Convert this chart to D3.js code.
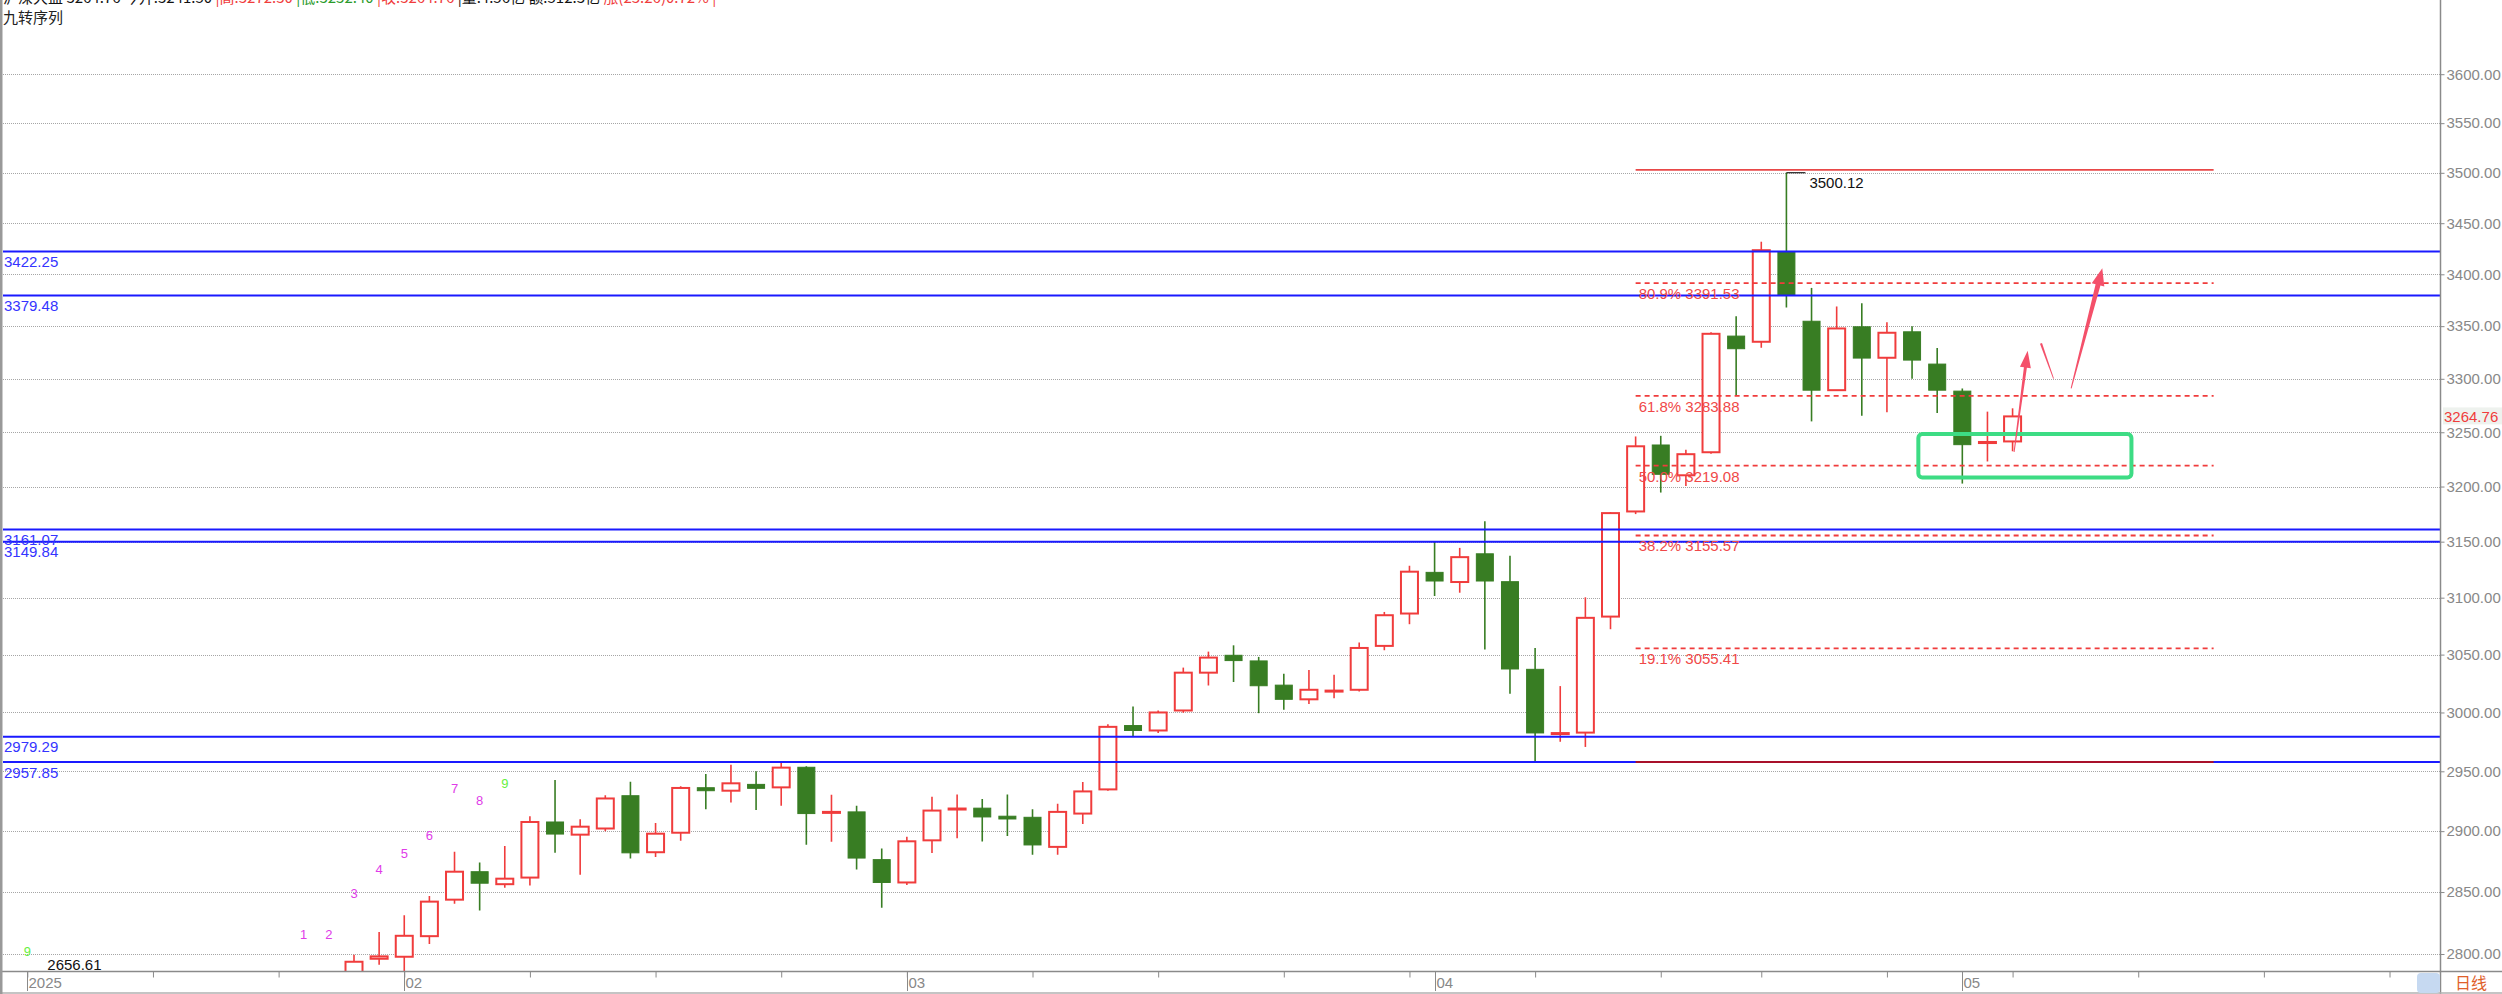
<!DOCTYPE html>
<html><head><meta charset="utf-8">
<script src="https://cdn.jsdelivr.net/npm/d3@7"></script>
<style>html,body{margin:0;padding:0;background:#fff;overflow:hidden}svg{display:block}</style>
</head><body><svg id="c" width="2502" height="994"></svg>
<script>
// ---------------- data ----------------
const bars = d3.range(0, 67);
const open  = [2775,2796.2,2797.8,2814.3,2843.8,2866.6,2856.4,2861.8,2907.6,2897.1,
  2902.2,2929.5,2882.6,2898.7,2936.2,2933.7,2939.0,2936.5,2953.4,2915.5,
  2916.0,2876.5,2857.8,2892.4,2918.0,2919.1,2912.4,2911.5,2887.0,2914.6,
  2934.8,2988.8,2984.6,3001.7,3034.3,3049.4,3044.5,3023.5,3011.3,3018.3,
  3019.5,3057.6,3086.0,3122.5,3113.9,3139.1,3114.2,3037.2,2981.6,2982.8,
  3083.3,3177.3,3238.2,3210.3,3231.5,3340.5,3335.1,3422.25,3354.7,3289.3,
  3349.4,3319.9,3344.6,3313.9,3288.4,3240.0,3241.5];
const high  = [2799.5,2817.6,2831.1,2846.8,2882.9,2874.1,2887.7,2912.4,2942.7,2909.8,
  2929.8,2941.3,2906.7,2937.4,2947.8,2955.6,2950.0,2957.8,2954.2,2930.3,
  2921.1,2885.7,2895.4,2928.7,2930.6,2926.7,2930.6,2918.3,2922.8,2941.0,
  2989.9,3005.2,3001.7,3038.7,3052.6,3058.1,3048.0,3033.4,3036.6,3032.6,
  3060.5,3087.4,3128.4,3150.3,3144.4,3168.5,3137.3,3055.8,3022.7,3100.3,
  3176.7,3246.1,3246.7,3233.9,3344.3,3359.4,3431.8,3500.12,3386.8,3368.9,
  3372.0,3353.8,3350.0,3329.1,3290.9,3269.2,3272.3];
const low   = [2770,2791.4,2785,2808.1,2840.5,2835.1,2853.5,2855.4,2882.1,2864.2,
  2900.0,2877.5,2878.6,2892.0,2918.3,2923.9,2917.5,2921.1,2888.8,2891.2,
  2868.4,2837.3,2855.7,2881.9,2894.1,2891.4,2895.9,2880.5,2880.5,2905.9,
  2933.7,2979.29,2982.4,2999.7,3023.2,3026.2,2999.4,3002.3,3007.3,3012.2,
  3018.0,3053.8,3076.6,3101.5,3104.4,3054.4,3016.0,2957.85,2975.0,2970.6,
  3072.2,3174.9,3194.5,3200.6,3230.0,3284.6,3329.4,3367.9,3260.1,3289.3,
  3265.4,3268.6,3300.0,3267.9,3202.7,3223.0,3232.4];
const close = [2793.8,2798.1,2814.6,2842.2,2866.6,2857.2,2860.9,2907.6,2897.6,2903.7,
  2927.2,2882.1,2897.9,2936.0,2933.7,2939.9,2935.7,2953.1,2914.6,2916.0,
  2877.8,2857.8,2891.6,2917.1,2918.8,2911.8,2910.1,2888.6,2916.0,2933.1,
  2987.7,2984.6,3000.0,3034.3,3047.4,3044.8,3023.0,3011.3,3019.5,3018.8,
  3055.8,3084.5,3123.1,3114.8,3136.1,3114.8,3037.5,2982.5,2982.4,3082.2,
  3175.8,3237.0,3211.2,3229.7,3342.7,3328.5,3423.5,3379.48,3289.3,3347.8,
  3319.6,3343.7,3317.7,3289.3,3238.5,3241.0,3264.76];

const yTickValues = d3.range(2800, 3601, 50);
const xTickBars = [-13,-8,-3,2,7,12,17,22,27,32,37,42,47,52,56,61,66,71,76,81];
const monthBars = [-13, 2, 22, 43, 64];
const monthLabels = ["2025","02","03","04","05"];

const levelValues = [3422.25,3379.48,3161.07,3149.84,2979.29,2957.85];

const fibPercents = ["80.9%","61.8%","50.0%","38.2%","19.1%"];
const fibValues = [3391.53,3283.88,3219.08,3155.57,3055.41];
const fibEnds = [3503, 2957.85];
const fibBars = [51, 74];

const tdBars   = [-13,-2,-1,0,1,2,3,4,5,6];
const tdLabels = ["9","1","2","3","4","5","6","7","8","9"];
const tdPrices = [2802.4,2815.8,2815.8,2848.9,2868.5,2882.2,2896.8,2935.7,2925.9,2939.9];

const highMarkBar = 57, highMarkValue = 3500.12;
const lowMarkBar = -13, lowMarkValue = 2656.61;
const lastPrice = 3264.76;

const boxBars = [62.25, 70.73];
const boxPrices = [3248.3, 3208.2];
const arrowBars   = [[66.06, 66.60], [67.13, 67.63], [68.33, 69.57]];
const arrowPrices = [[3231.7, 3326.6], [3333.6, 3300.1], [3291.1, 3405.8]];

// ---------------- layout ----------------
const W = 2502, H = 994;
const axisX = 2440, axisY = 971.5;
const UP = "#f03c3c", DOWN = "#387d23", BLUE = "#1a1aff", GRID = "#a6a6a6", AX = "#8a8a8a";
const FONT = "'Liberation Sans', Arial, sans-serif";
const CJK = "'Noto Sans CJK SC', sans-serif";

const x = d3.scaleLinear().domain([0, 66]).range([354, 354 + 66 * 25.13]);
const y = d3.scaleLog().domain([2800, 3600]).range([954, 74.2]);

const svg = d3.select("#c");
svg.append("defs").append("clipPath").attr("id", "plot")
  .append("rect").attr("x", 3).attr("y", 0).attr("width", axisX - 3).attr("height", axisY);

// gridlines
const g = svg.append("g").attr("clip-path", "url(#plot)");
g.selectAll("line.grid").data(yTickValues).join("line")
  .attr("x1", 3).attr("x2", axisX)
  .attr("y1", d => Math.round(y(d)) + 0.5).attr("y2", d => Math.round(y(d)) + 0.5)
  .attr("stroke", GRID).attr("stroke-width", 1).attr("stroke-dasharray", "1,1");

// candles
const cg = g.append("g");
bars.forEach(i => {
  const o = open[i], h = high[i], l = low[i], c = close[i];
  const up = c >= o;
  const col = up ? UP : DOWN;
  const cx = x(i);
  cg.append("line").attr("x1", cx).attr("x2", cx).attr("y1", y(h)).attr("y2", y(l))
    .attr("stroke", col).attr("stroke-width", 1.6);
  const top = Math.min(y(o), y(c)), hgt = Math.max(1, Math.abs(y(o) - y(c)));
  cg.append("rect").attr("x", cx - 8.5).attr("width", 17).attr("y", top).attr("height", hgt)
    .attr("fill", up ? "#fff" : DOWN).attr("stroke", col).attr("stroke-width", up ? 2 : 1);
});

// blue support/resistance lines
const ag = g.append("g");
levelValues.forEach(v => {
  ag.append("line").attr("x1", 3).attr("x2", axisX).attr("y1", y(v)).attr("y2", y(v))
    .attr("stroke", BLUE).attr("stroke-width", 2);
});

// fib lines
const fx1 = x(fibBars[0]), fx2 = x(fibBars[1]);
fibValues.forEach(v => {
  ag.append("line").attr("x1", fx1).attr("x2", fx2).attr("y1", y(v)).attr("y2", y(v))
    .attr("stroke", UP).attr("stroke-width", 1.8).attr("stroke-dasharray", "5,4");
});
ag.append("line").attr("x1", fx1).attr("x2", fx2).attr("y1", y(fibEnds[0])).attr("y2", y(fibEnds[0]))
  .attr("stroke", "#e84848").attr("stroke-width", 1.8);
ag.append("line").attr("x1", fx1).attr("x2", fx2).attr("y1", y(fibEnds[1])).attr("y2", y(fibEnds[1]))
  .attr("stroke", "#a8102a").attr("stroke-width", 2);

// labels for blue levels
levelValues.forEach(v => {
  ag.append("text").attr("x", 4).attr("y", y(v) + 15.5).text(v.toFixed(2))
    .attr("fill", "#3434ff").attr("font-family", FONT).attr("font-size", 15);
});
// fib labels
fibValues.forEach((v, k) => {
  ag.append("text").attr("x", fx1 + 3).attr("y", y(v) + 16).text(fibPercents[k] + " " + v.toFixed(2))
    .attr("fill", "#f04848").attr("font-family", FONT).attr("font-size", 15);
});

// high marker
const hx = x(highMarkBar), hy = y(highMarkValue);
ag.append("line").attr("x1", hx).attr("x2", hx + 19).attr("y1", hy).attr("y2", hy).attr("stroke", "#222").attr("stroke-width", 1.2);
ag.append("text").attr("x", hx + 23).attr("y", hy + 15).text(highMarkValue.toFixed(2))
  .attr("fill", "#111").attr("font-family", FONT).attr("font-size", 15);
// low marker (clamped to bottom of plot)
ag.append("text").attr("x", x(lowMarkBar) + 20).attr("y", Math.min(y(lowMarkValue), axisY) - 1.5)
  .text(lowMarkValue.toFixed(2)).attr("fill", "#111").attr("font-family", FONT).attr("font-size", 15);

// TD sequential numbers
tdBars.forEach((b, k) => {
  ag.append("text").attr("x", x(b)).attr("y", y(tdPrices[k]) + 5).attr("text-anchor", "middle")
    .text(tdLabels[k]).attr("fill", tdLabels[k] === "9" ? "#66f040" : "#e03ce8")
    .attr("font-family", FONT).attr("font-size", 13);
});

// green box
ag.append("rect").attr("x", x(boxBars[0])).attr("y", y(boxPrices[0]))
  .attr("width", x(boxBars[1]) - x(boxBars[0])).attr("height", y(boxPrices[1]) - y(boxPrices[0]))
  .attr("rx", 4).attr("fill", "none").attr("stroke", "#3ddc84").attr("stroke-width", 4);

// arrows
function arrowPoly(x0, y0, x1, y1, baseW, shaftW, headLen, headW) {
  const dx = x1 - x0, dy = y1 - y0, L = Math.hypot(dx, dy);
  const ux = dx / L, uy = dy / L, nx = -uy, ny = ux;
  const pts = [];
  pts.push([x0 + nx * baseW / 2, y0 + ny * baseW / 2]);
  if (headLen > 0) {
    const kx = x1 - ux * headLen, ky = y1 - uy * headLen;
    pts.push([kx + nx * shaftW / 2, ky + ny * shaftW / 2]);
    pts.push([kx + nx * headW / 2, ky + ny * headW / 2]);
    pts.push([x1, y1]);
    pts.push([kx - nx * headW / 2, ky - ny * headW / 2]);
    pts.push([kx - nx * shaftW / 2, ky - ny * shaftW / 2]);
  } else {
    pts.push([x1 + nx * shaftW / 2, y1 + ny * shaftW / 2]);
    pts.push([x1 - nx * shaftW / 2, y1 - ny * shaftW / 2]);
  }
  pts.push([x0 - nx * baseW / 2, y0 - ny * baseW / 2]);
  return pts.map(p => p.join(",")).join(" ");
}
const arrowShapes = [[1, 3, 17, 11], [2.2, 0.8, 0, 0], [1, 5, 17, 13]];
arrowBars.forEach((ab, k) => {
  const s = arrowShapes[k];
  ag.append("polygon").attr("points",
    arrowPoly(x(ab[0]), y(arrowPrices[k][0]), x(ab[1]), y(arrowPrices[k][1]), s[0], s[1], s[2], s[3]))
    .attr("fill", "#f4506a");
});

// ---------------- axes / frame ----------------
// right price axis
const yAxis = d3.axisRight(y).tickValues(yTickValues).tickFormat(d3.format(".2f")).tickSize(4).tickPadding(2);
const ya = svg.append("g").attr("transform", `translate(${axisX + 0.5},0)`).call(yAxis);
ya.select(".domain").remove();
ya.selectAll("line").attr("stroke", AX);
ya.selectAll("text").attr("fill", "#888").attr("font-family", FONT).attr("font-size", 15);
svg.append("line").attr("x1", axisX + 0.5).attr("x2", axisX + 0.5).attr("y1", 0).attr("y2", H)
  .attr("stroke", AX).attr("stroke-width", 1.5);

// last price tag
svg.append("rect").attr("x", axisX + 3).attr("y", y(lastPrice) - 9).attr("width", W - axisX - 3).attr("height", 17)
  .attr("fill", "#eef2ee");
svg.append("text").attr("x", axisX + 4).attr("y", y(lastPrice) + 5.5).text(lastPrice.toFixed(2))
  .attr("fill", UP).attr("font-family", FONT).attr("font-size", 15);

// bottom time axis
const xAxis = d3.axisBottom(x).tickValues(xTickBars).tickFormat("").tickSize(6);
const xa = svg.append("g").attr("transform", `translate(0,${axisY})`).call(xAxis);
xa.select(".domain").remove();
xa.selectAll("line").attr("stroke", AX);
svg.append("line").attr("x1", 0).attr("x2", W).attr("y1", axisY).attr("y2", axisY).attr("stroke", AX).attr("stroke-width", 1.5);
svg.append("line").attr("x1", 0).attr("x2", W).attr("y1", 993).attr("y2", 993).attr("stroke", "#b0b0b0").attr("stroke-width", 1.5);
monthBars.forEach((b, k) => {
  const mx = Math.round(x(b)) + 0.5;
  svg.append("line").attr("x1", mx).attr("x2", mx).attr("y1", axisY).attr("y2", 991).attr("stroke", AX).attr("stroke-width", 1);
  svg.append("text").attr("x", mx + 1).attr("y", 988).text(monthLabels[k])
    .attr("fill", "#888").attr("font-family", FONT).attr("font-size", 15);
});
svg.append("rect").attr("x", 2417).attr("y", 973).attr("width", 23).attr("height", 20).attr("rx", 4).attr("fill", "#c6d9f1");
svg.append("text").attr("x", 2455).attr("y", 989).text("日线").attr("fill", "#e0602a")
  .attr("font-family", CJK).attr("font-size", 16);

// left border
svg.append("rect").attr("x", 0).attr("y", 0).attr("width", 2.5).attr("height", H).attr("fill", "#999");

// header
const hdr = svg.append("text").attr("x", 3).attr("y", 2.5).attr("font-family", CJK).attr("font-size", 15);
[["沪深大盘 ", "#111"], ["3264.76 今开:3241.50 ", "#111"], ["|高:3272.30 ", UP], ["|低:3232.40 ", "#2a9a2a"],
 ["|收:3264.76 ", UP], ["|量:4.56亿 额:512.3亿 ", "#111"], ["涨(23.26)0.72% |", UP]]
  .forEach(s => hdr.append("tspan").text(s[0]).attr("fill", s[1]));
svg.append("text").attr("x", 3).attr("y", 23).text("九转序列").attr("fill", "#222")
  .attr("font-family", CJK).attr("font-size", 15);
</script></body></html>
